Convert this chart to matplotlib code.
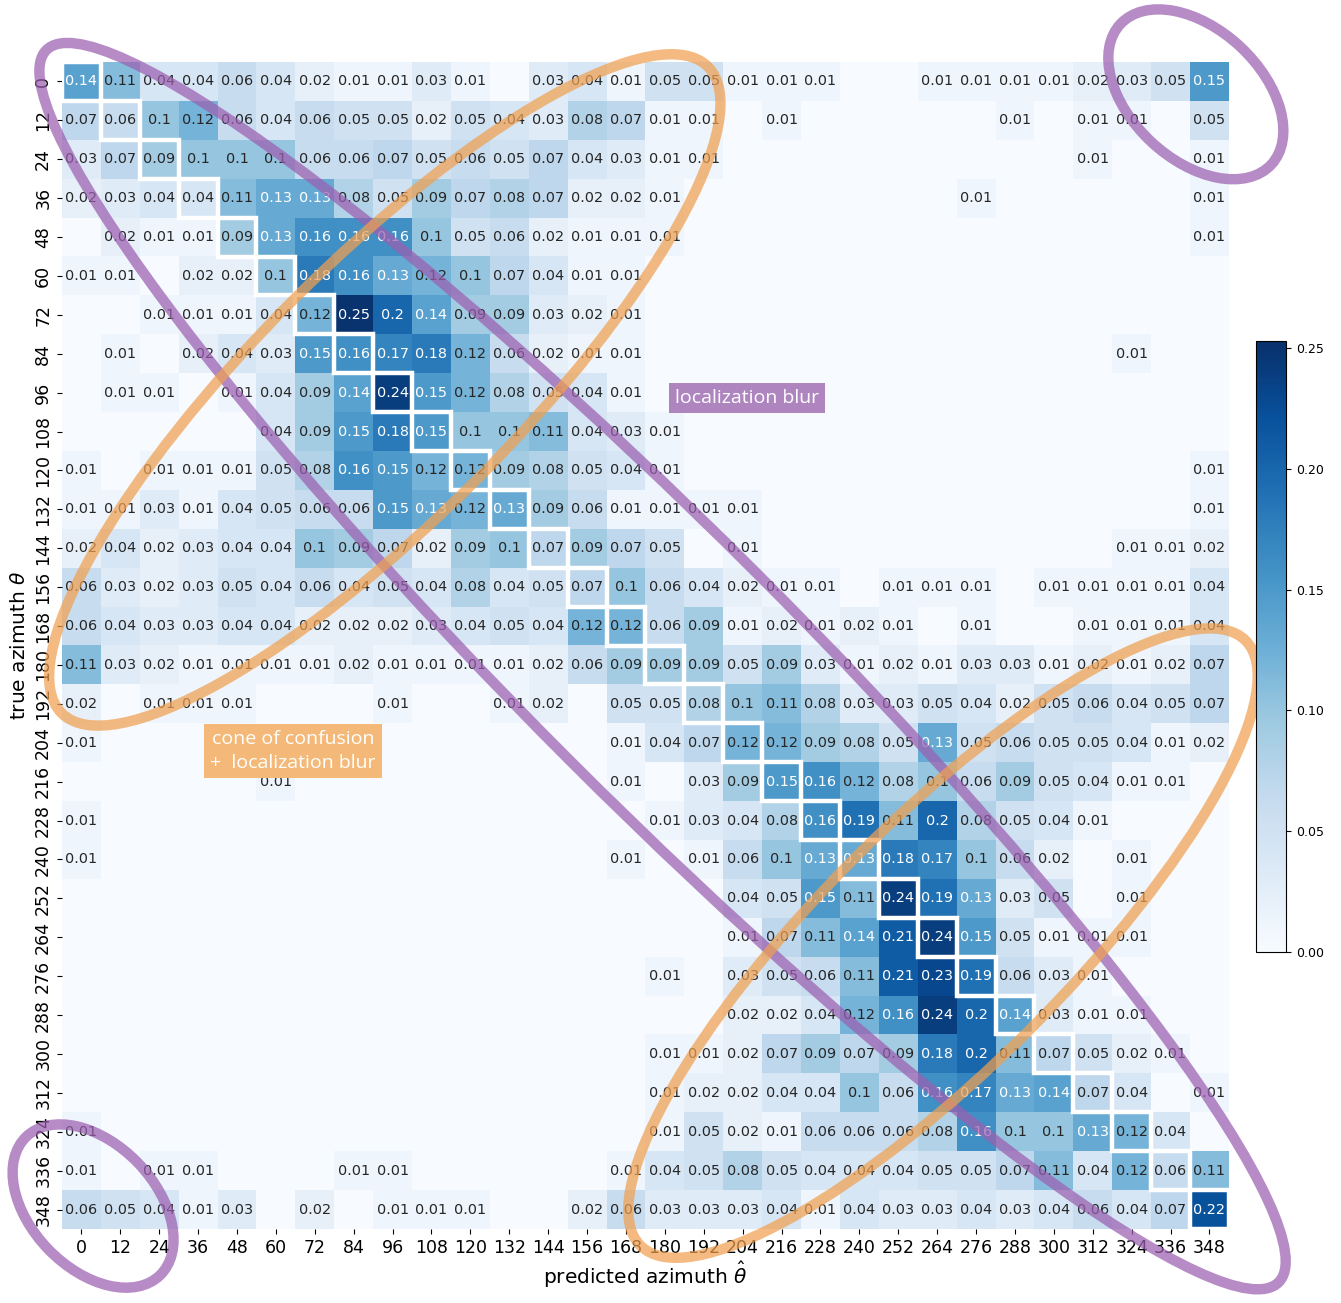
import matplotlib.pyplot as plt
import numpy as np
from matplotlib.patches import Ellipse, Rectangle
from matplotlib import colors

angles = list(range(0, 360, 12))

# rows: true azimuth, columns: predicted azimuth (0 = not shown)
r00 = [0.14, 0.11, 0.04, 0.04, 0.06, 0.04, 0.02, 0.01, 0.01, 0.03, 0.01, 0, 0.03, 0.04, 0.01, 0.05, 0.05, 0.01, 0.01, 0.01, 0, 0, 0.01, 0.01, 0.01, 0.01, 0.02, 0.03, 0.05, 0.15]
r01 = [0.07, 0.06, 0.1, 0.12, 0.06, 0.04, 0.06, 0.05, 0.05, 0.02, 0.05, 0.04, 0.03, 0.08, 0.07, 0.01, 0.01, 0, 0.01, 0, 0, 0, 0, 0, 0.01, 0, 0.01, 0.01, 0, 0.05]
r02 = [0.03, 0.07, 0.09, 0.1, 0.1, 0.1, 0.06, 0.06, 0.07, 0.05, 0.06, 0.05, 0.07, 0.04, 0.03, 0.01, 0.01, 0, 0, 0, 0, 0, 0, 0, 0, 0, 0.01, 0, 0, 0.01]
r03 = [0.02, 0.03, 0.04, 0.04, 0.11, 0.13, 0.13, 0.08, 0.05, 0.09, 0.07, 0.08, 0.07, 0.02, 0.02, 0.01, 0, 0, 0, 0, 0, 0, 0, 0.01, 0, 0, 0, 0, 0, 0.01]
r04 = [0, 0.02, 0.01, 0.01, 0.09, 0.13, 0.16, 0.16, 0.16, 0.1, 0.05, 0.06, 0.02, 0.01, 0.01, 0.01, 0, 0, 0, 0, 0, 0, 0, 0, 0, 0, 0, 0, 0, 0.01]
r05 = [0.01, 0.01, 0, 0.02, 0.02, 0.1, 0.18, 0.16, 0.13, 0.12, 0.1, 0.07, 0.04, 0.01, 0.01, 0, 0, 0, 0, 0, 0, 0, 0, 0, 0, 0, 0, 0, 0, 0]
r06 = [0, 0, 0.01, 0.01, 0.01, 0.04, 0.12, 0.25, 0.2, 0.14, 0.09, 0.09, 0.03, 0.02, 0.01, 0, 0, 0, 0, 0, 0, 0, 0, 0, 0, 0, 0, 0, 0, 0]
r07 = [0, 0.01, 0, 0.02, 0.04, 0.03, 0.15, 0.16, 0.17, 0.18, 0.12, 0.06, 0.02, 0.01, 0.01, 0, 0, 0, 0, 0, 0, 0, 0, 0, 0, 0, 0, 0.01, 0, 0]
r08 = [0, 0.01, 0.01, 0, 0.01, 0.04, 0.09, 0.14, 0.24, 0.15, 0.12, 0.08, 0.05, 0.04, 0.01, 0, 0, 0, 0, 0, 0, 0, 0, 0, 0, 0, 0, 0, 0, 0]
r09 = [0, 0, 0, 0, 0, 0.04, 0.09, 0.15, 0.18, 0.15, 0.1, 0.1, 0.11, 0.04, 0.03, 0.01, 0, 0, 0, 0, 0, 0, 0, 0, 0, 0, 0, 0, 0, 0]
r10 = [0.01, 0, 0.01, 0.01, 0.01, 0.05, 0.08, 0.16, 0.15, 0.12, 0.12, 0.09, 0.08, 0.05, 0.04, 0.01, 0, 0, 0, 0, 0, 0, 0, 0, 0, 0, 0, 0, 0, 0.01]
r11 = [0.01, 0.01, 0.03, 0.01, 0.04, 0.05, 0.06, 0.06, 0.15, 0.13, 0.12, 0.13, 0.09, 0.06, 0.01, 0.01, 0.01, 0.01, 0, 0, 0, 0, 0, 0, 0, 0, 0, 0, 0, 0.01]
r12 = [0.02, 0.04, 0.02, 0.03, 0.04, 0.04, 0.1, 0.09, 0.07, 0.02, 0.09, 0.1, 0.07, 0.09, 0.07, 0.05, 0, 0.01, 0, 0, 0, 0, 0, 0, 0, 0, 0, 0.01, 0.01, 0.02]
r13 = [0.06, 0.03, 0.02, 0.03, 0.05, 0.04, 0.06, 0.04, 0.05, 0.04, 0.08, 0.04, 0.05, 0.07, 0.1, 0.06, 0.04, 0.02, 0.01, 0.01, 0, 0.01, 0.01, 0.01, 0, 0.01, 0.01, 0.01, 0.01, 0.04]
r14 = [0.06, 0.04, 0.03, 0.03, 0.04, 0.04, 0.02, 0.02, 0.02, 0.03, 0.04, 0.05, 0.04, 0.12, 0.12, 0.06, 0.09, 0.01, 0.02, 0.01, 0.02, 0.01, 0, 0.01, 0, 0, 0.01, 0.01, 0.01, 0.04]
r15 = [0.11, 0.03, 0.02, 0.01, 0.01, 0.01, 0.01, 0.02, 0.01, 0.01, 0.01, 0.01, 0.02, 0.06, 0.09, 0.09, 0.09, 0.05, 0.09, 0.03, 0.01, 0.02, 0.01, 0.03, 0.03, 0.01, 0.02, 0.01, 0.02, 0.07]
r16 = [0.02, 0, 0.01, 0.01, 0.01, 0, 0, 0, 0.01, 0, 0, 0.01, 0.02, 0, 0.05, 0.05, 0.08, 0.1, 0.11, 0.08, 0.03, 0.03, 0.05, 0.04, 0.02, 0.05, 0.06, 0.04, 0.05, 0.07]
r17 = [0.01, 0, 0, 0, 0, 0, 0, 0, 0, 0, 0, 0, 0, 0, 0.01, 0.04, 0.07, 0.12, 0.12, 0.09, 0.08, 0.05, 0.13, 0.05, 0.06, 0.05, 0.05, 0.04, 0.01, 0.02]
r18 = [0, 0, 0, 0, 0, 0.01, 0, 0, 0, 0, 0, 0, 0, 0, 0.01, 0, 0.03, 0.09, 0.15, 0.16, 0.12, 0.08, 0.1, 0.06, 0.09, 0.05, 0.04, 0.01, 0.01, 0]
r19 = [0.01, 0, 0, 0, 0, 0, 0, 0, 0, 0, 0, 0, 0, 0, 0, 0.01, 0.03, 0.04, 0.08, 0.16, 0.19, 0.11, 0.2, 0.08, 0.05, 0.04, 0.01, 0, 0, 0]
r20 = [0.01, 0, 0, 0, 0, 0, 0, 0, 0, 0, 0, 0, 0, 0, 0.01, 0, 0.01, 0.06, 0.1, 0.13, 0.13, 0.18, 0.17, 0.1, 0.06, 0.02, 0, 0.01, 0, 0]
r21 = [0, 0, 0, 0, 0, 0, 0, 0, 0, 0, 0, 0, 0, 0, 0, 0, 0, 0.04, 0.05, 0.15, 0.11, 0.24, 0.19, 0.13, 0.03, 0.05, 0, 0.01, 0, 0]
r22 = [0, 0, 0, 0, 0, 0, 0, 0, 0, 0, 0, 0, 0, 0, 0, 0, 0, 0.01, 0.07, 0.11, 0.14, 0.21, 0.24, 0.15, 0.05, 0.01, 0.01, 0.01, 0, 0]
r23 = [0, 0, 0, 0, 0, 0, 0, 0, 0, 0, 0, 0, 0, 0, 0, 0.01, 0, 0.03, 0.05, 0.06, 0.11, 0.21, 0.23, 0.19, 0.06, 0.03, 0.01, 0, 0, 0]
r24 = [0, 0, 0, 0, 0, 0, 0, 0, 0, 0, 0, 0, 0, 0, 0, 0, 0, 0.02, 0.02, 0.04, 0.12, 0.16, 0.24, 0.2, 0.14, 0.03, 0.01, 0.01, 0, 0]
r25 = [0, 0, 0, 0, 0, 0, 0, 0, 0, 0, 0, 0, 0, 0, 0, 0.01, 0.01, 0.02, 0.07, 0.09, 0.07, 0.09, 0.18, 0.2, 0.11, 0.07, 0.05, 0.02, 0.01, 0]
r26 = [0, 0, 0, 0, 0, 0, 0, 0, 0, 0, 0, 0, 0, 0, 0, 0.01, 0.02, 0.02, 0.04, 0.04, 0.1, 0.06, 0.16, 0.17, 0.13, 0.14, 0.07, 0.04, 0, 0.01]
r27 = [0.01, 0, 0, 0, 0, 0, 0, 0, 0, 0, 0, 0, 0, 0, 0, 0.01, 0.05, 0.02, 0.01, 0.06, 0.06, 0.06, 0.08, 0.16, 0.1, 0.1, 0.13, 0.12, 0.04, 0]
r28 = [0.01, 0, 0.01, 0.01, 0, 0, 0, 0.01, 0.01, 0, 0, 0, 0, 0, 0.01, 0.04, 0.05, 0.08, 0.05, 0.04, 0.04, 0.04, 0.05, 0.05, 0.07, 0.11, 0.04, 0.12, 0.06, 0.11]
r29 = [0.06, 0.05, 0.04, 0.01, 0.03, 0, 0.02, 0, 0.01, 0.01, 0.01, 0, 0, 0.02, 0.06, 0.03, 0.03, 0.03, 0.04, 0.01, 0.04, 0.03, 0.03, 0.04, 0.03, 0.04, 0.06, 0.04, 0.07, 0.22]

conf = np.array([r00, r01, r02, r03, r04, r05, r06, r07, r08, r09,
                 r10, r11, r12, r13, r14, r15, r16, r17, r18, r19,
                 r20, r21, r22, r23, r24, r25, r26, r27, r28, r29])

purple = '#9b5fb0'
orange = '#f0a050'

fig = plt.figure(figsize=(13.41, 13.03), dpi=100)
ax = fig.add_axes([0.0462, 0.0568, 0.8702, 0.8956])
cax = fig.add_axes([0.9366, 0.2694, 0.0224, 0.469])

cmap = plt.get_cmap('Blues')
norm = colors.Normalize(vmin=0, vmax=0.253)
im = ax.imshow(conf, cmap=cmap, norm=norm, aspect='auto', interpolation='nearest')


def lum(c):
    rgb = np.array(c[:3])
    rgb = np.where(rgb <= 0.03928, rgb / 12.92, ((rgb + 0.055) / 1.055) ** 2.4)
    return 0.2126 * rgb[0] + 0.7152 * rgb[1] + 0.0722 * rgb[2]


n = len(angles)
for i in range(n):
    for j in range(n):
        v = conf[i, j]
        if v <= 0:
            continue
        tc = '.15' if lum(cmap(norm(v))) > 0.408 else 'w'
        ax.text(j, i, '%g' % v, ha='center', va='center', fontsize=10.4, color=tc)

# outline the correct-prediction cells
for i in range(n):
    ax.add_patch(Rectangle((i - 0.5, i - 0.5), 1, 1, fill=False, ec='white', lw=3.2, zorder=3))

for s in ax.spines.values():
    s.set_visible(False)
ax.set_xticks(range(n))
ax.set_xticklabels(angles, fontsize=12.5)
ax.set_yticks(range(n))
ax.set_yticklabels(angles, fontsize=12.5, rotation=90, va='center')
ax.set_xlim(-0.5, n - 0.5)
ax.set_ylim(n - 0.5, -0.5)
ax.set_xlabel(r'predicted azimuth $\hat{\theta}$', fontsize=14.5, labelpad=2)
ax.set_ylabel(r'true azimuth $\theta$', fontsize=14.5, labelpad=4)

cb = fig.colorbar(im, cax=cax, ticks=[0, 0.05, 0.1, 0.15, 0.2, 0.25], format='%.2f')
cb.ax.tick_params(labelsize=9)
cb.outline.set_linewidth(0.8)

# annotation ellipses
ell = [
    (14.94, 15.03, 44.8, 6.8, 45, purple),
    (28.65, 0.33, 5.3, 3.35, 43, purple),
    (0.30, 28.91, 4.95, 3.2, 46, purple),
    (7.80, 7.93, 23.5, 6.6, -45, orange),
    (22.15, 22.15, 22.0, 6.3, -45, orange),
]
for x, y, w, h, a, c in ell:
    ax.add_patch(Ellipse((x, y), w, h, angle=a, fill=False, ec=c, lw=7.5,
                         alpha=0.72, clip_on=False, zorder=5))

ax.text(17.11, 8.14, 'localization blur', ha='center', va='center', color='white',
        fontsize=14, family='Open Sans', zorder=6,
        bbox=dict(boxstyle='square,pad=0.32', fc='#ae85bf', ec='none'))
ax.text(5.44, 17.21, 'cone of confusion\n+  localization blur', ha='center', va='center',
        color='white', fontsize=14, family='Open Sans', zorder=6, linespacing=1.45,
        bbox=dict(boxstyle='square,pad=0.3', fc='#f4b978', ec='none'))

plt.savefig('out.png', dpi=100)
